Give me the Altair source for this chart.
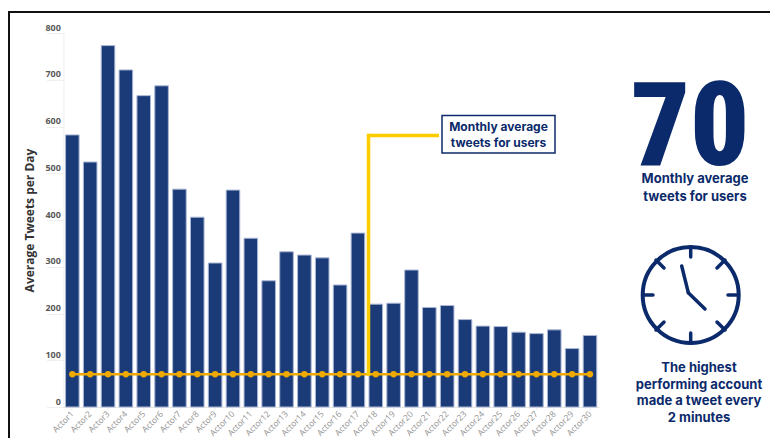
import altair as alt
import pandas as pd

actors = [f"Actor{i}" for i in range(1, 31)]
tweets = [582, 524, 773, 721, 666, 687, 466, 406, 308, 464, 361, 270, 332, 325, 319,
          261, 372, 220, 222, 293, 213, 217, 187, 173, 172, 160, 157, 165, 125, 153]
monthly_avg = [70] * 30

NAVY = "#0b2a6b"
BAR = "#1b3a78"
GOLD = "#eeaa00"
YEL = "#ffcc00"
FONT = "Open Sans"
HEAD = "Inter"

W, H = 535.5, 374
OX, OY = 63.4, 33
SVG_W, SVG_H = 762, 430

df = pd.DataFrame({"actor": actors, "tweets": tweets, "avg": monthly_avg})
one = pd.DataFrame({"a": [0]})


def vx(x):
    return alt.value(x - OX)


def vy(y):
    return alt.value(y - OY)


def seg(x1, y1, x2, y2, color=NAVY, width=4, cap="round"):
    return alt.Chart(one).mark_rule(color=color, strokeWidth=width, strokeCap=cap, clip=False).encode(
        x=vx(x1), x2=vx(x2), y=vy(y1), y2=vy(y2))


def label(txt, x, y, size, color=NAVY, font=HEAD, weight="bold", **kw):
    return alt.Chart(one).mark_text(font=font, fontSize=size, fontWeight=weight, color=color,
                                    align="center", baseline="middle", clip=False, **kw).encode(
        x=vx(x), y=vy(y), text=alt.value(txt))


x_enc = alt.X("actor:N", sort=actors, title=None,
              scale=alt.Scale(paddingInner=0.24, paddingOuter=0.12),
              axis=alt.Axis(labelAngle=315, labelColor="#8f8f8f", labelFont=FONT, labelFontSize=8.5,
                            labelAlign="right", labelBaseline="middle", labelPadding=2,
                            tickColor="#ececec", tickSize=3, domainColor="#e4e4e4", grid=False,
                            labelOverlap=False))
y_enc = alt.Y("tweets:Q", scale=alt.Scale(domain=[0, 800], nice=False),
              title="Average Tweets per Day",
              axis=alt.Axis(values=list(range(0, 801, 100)), labelColor="#595959", labelFont=FONT,
                            labelFontSize=9, labelFontWeight="bold", labelOffset=-6, labelPadding=-14,
                            tickColor="#efefef", tickSize=17, domainColor="#eeeeee", grid=False,
                            titleFont=FONT, titleFontSize=12, titleFontWeight="bold", titleColor="#333333",
                            titleX=-27, titleY=187))

bars = alt.Chart(df).mark_bar(color=BAR, stroke="#aab7d4", strokeWidth=1).encode(x=x_enc, y=y_enc)
line = alt.Chart(df).mark_line(color=GOLD, strokeWidth=2.5).encode(
    x=alt.X("actor:N", sort=actors), y=alt.Y("avg:Q"))
dots = alt.Chart(df).mark_point(color=GOLD, filled=True, opacity=1, size=40).encode(
    x=alt.X("actor:N", sort=actors), y=alt.Y("avg:Q"))

layers = [bars, line, dots]

# frame
layers += [seg(8, 12, 778, 12, "#111111", 2, "butt"), seg(8.5, 12, 8.5, 446, "#111111", 3, "butt")]

# callout
layers += [seg(368.5, 374, 368.5, 135.5, YEL, 3.5, "square"), seg(368.5, 135.5, 439, 135.5, YEL, 3.5, "butt")]
layers.append(alt.Chart(one).mark_rect(fill="white", stroke=NAVY, strokeWidth=1.5, clip=False).encode(
    x=vx(442), x2=vx(555), y=vy(115.5), y2=vy(153)))
layers += [label("Monthly average", 498.5, 126.5, 12), label("tweets  for users", 498.5, 142.5, 12)]

# big figure
layers.append(alt.Chart(one).mark_text(font="Roboto Condensed, Roboto", fontSize=116, fontWeight=900, color=NAVY,
                                       align="center", baseline="alphabetic",
                                       clip=False).encode(x=vx(690), y=vy(165), text=alt.value("70")))
layers += [label("Monthly average", 695, 179, 13), label("tweets  for users", 695, 197, 13)]

# clock
layers.append(alt.Chart(one).mark_point(shape="circle", size=9216, stroke=NAVY, strokeWidth=4, filled=False,
                                        opacity=1, clip=False).encode(x=vx(690.7), y=vy(295)))
for a, b, c, d in [(690.7, 248, 690.7, 257), (690.7, 333, 690.7, 342), (643, 295, 653, 295), (728, 295, 738, 295),
                   (717, 268, 725, 260), (656, 260, 664, 268), (717, 322, 725, 330), (656, 330, 664, 322)]:
    layers.append(seg(a, b, c, d, NAVY, 3.5))
layers += [seg(681.7, 266, 688.3, 292.7, NAVY, 3.5), seg(688.3, 292.7, 705, 309, NAVY, 3.5)]

layers += [label("The highest", 699, 368, 13), label("performing account", 699, 385, 13),
           label("made a  tweet every", 699, 401, 13), label("2 minutes", 699, 418, 13)]

chart = alt.layer(*layers).resolve_scale(x="shared", y="shared").properties(
    width=W, height=H,
    autosize=alt.AutoSizeParams(type="none"),
    padding={"left": OX - 8, "top": OY - 8, "right": SVG_W - (OX - 8) - W, "bottom": SVG_H - (OY - 8) - H},
    background="white",
).configure_view(stroke=None)

chart.save("out.html", embed_options={"renderer": "svg", "actions": False})
